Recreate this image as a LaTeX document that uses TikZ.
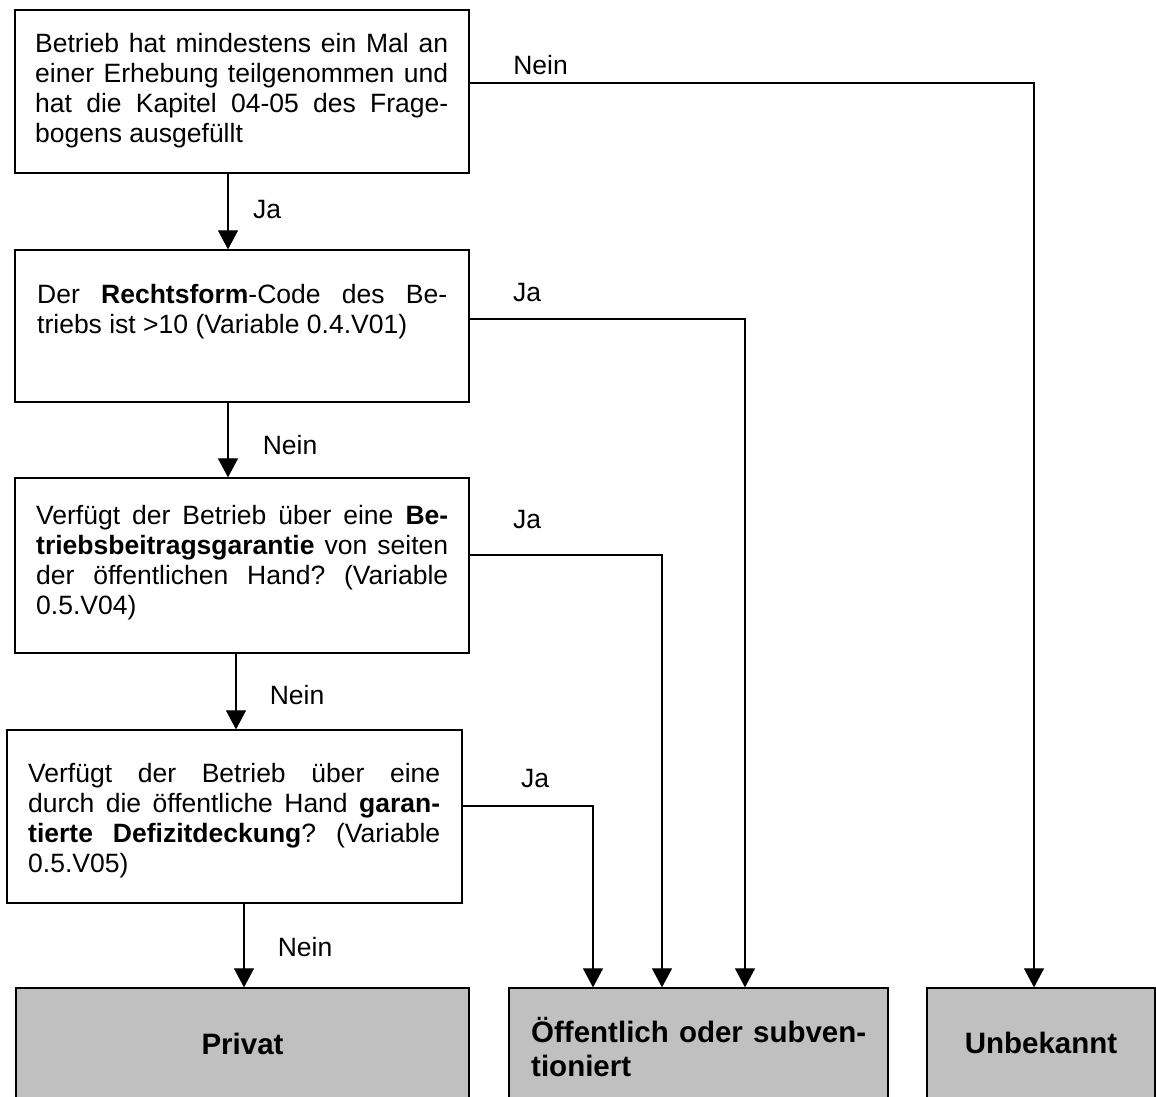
\documentclass[tikz,border=0pt]{standalone}
\usepackage{fontspec}
\setmainfont{Liberation Sans}
\usetikzlibrary{arrows.meta}
\frenchspacing
\hyphenpenalty=10000
\exhyphenpenalty=10000
\tolerance=10000
\definecolor{boxgray}{HTML}{C0C0C0}
\tikzset{
  qbox/.style={draw=black, line width=1.3pt, rectangle, inner sep=0pt},
  endbox/.style={qbox, fill=boxgray},
  qtext/.style={anchor=base west, inner sep=0pt, align=justify, font=\fontsize{26.5}{30}\selectfont\frenchspacing},
  etext/.style={anchor=base, inner sep=0pt, font=\fontsize{29.5}{34}\selectfont\bfseries\frenchspacing},
  lbl/.style={inner sep=0pt, font=\fontsize{26.5}{30}\selectfont},
  arr/.style={draw=black, line width=1.1pt, -{Triangle[width=20pt,length=19pt]}}
}
\begin{document}
\begin{tikzpicture}[x=1pt,y=-1pt]
\path[use as bounding box, clip] (0,0) rectangle (1156,1097);
\fill[white] (0,0) rectangle (1156,1097);
% question boxes
\node[qbox, minimum width=454pt, minimum height=163pt] (b1) at (242,91.5) {};
\node[qbox, minimum width=454pt, minimum height=152pt] (b2) at (242,326) {};
\node[qbox, minimum width=454pt, minimum height=175pt] (b3) at (242,565.5) {};
\node[qbox, minimum width=455pt, minimum height=173pt] (b4) at (234.5,816.5) {};
% end boxes
\node[endbox, minimum width=453pt, minimum height=122pt] (p) at (242.5,1049) {};
\node[endbox, minimum width=379pt, minimum height=122pt] (o) at (698.5,1049) {};
\node[endbox, minimum width=228pt, minimum height=122pt] (u) at (1041,1049) {};
% texts
\node[qtext, text width=413pt] (t1) at (35,53) {Betrieb hat mindestens ein Mal an\linebreak einer Erhebung teilgenommen und\linebreak hat die Kapitel 04-05 des Frage-\linebreak bogens ausgefüllt};
\node[qtext, text width=410pt] (t2) at (37,303) {Der \textbf{Rechtsform}-Code des Be-\linebreak triebs ist >10 (Variable 0.4.V01)};
\node[qtext, text width=412pt] (t3) at (36,524) {Verfügt der Betrieb über eine \textbf{Be-}\linebreak \textbf{triebsbeitragsgarantie} von seiten\linebreak der öffentlichen Hand? (Variable\linebreak 0.5.V04)};
\node[qtext, text width=412pt] (t4) at (28,782) {Verfügt der Betrieb über eine\linebreak durch die öffentliche Hand \textbf{garan-}\linebreak \textbf{tierte Defizitdeckung}? (Variable\linebreak 0.5.V05)};
\node[etext] (tp) at (242.5,1054) {Privat};
\node[etext, anchor=base west, text width=335pt, align=justify] (to) at (531,1042) {Öffentlich oder subven-\linebreak tioniert};
\node[etext] (tu) at (1041,1053) {Unbekannt};
% vertical connectors
\draw[arr] ([xshift=-14pt]b1.south) -- ([xshift=-14pt]b2.north);
\draw[arr] ([xshift=-14pt]b2.south) -- ([xshift=-14pt]b3.north);
\draw[arr] ([xshift=-6pt]b3.south) -- ([xshift=1.5pt]b4.north);
\draw[arr] ([xshift=9.5pt]b4.south) -- ([xshift=1.5pt]p.north);
% side connectors
\draw[arr] ([yshift=8.5pt]b1.east) -| ([xshift=-7pt]u.north);
\draw[arr] ([yshift=7pt]b2.east) -| ([xshift=46.5pt]o.north);
\draw[arr] ([yshift=10.5pt]b3.east) -| ([xshift=-36.5pt]o.north);
\draw[arr] ([yshift=10.5pt]b4.east) -| ([xshift=-105.5pt]o.north);
% labels
\node[lbl] (l1) at (540.5,65) {Nein};
\node[lbl] (l2) at (527,293) {Ja};
\node[lbl] (l3) at (527,520) {Ja};
\node[lbl] (l4) at (535,779) {Ja};
\node[lbl] (l5) at (267,210) {Ja};
\node[lbl] (l6) at (290,445) {Nein};
\node[lbl] (l7) at (297,695) {Nein};
\node[lbl] (l8) at (305,947) {Nein};
\end{tikzpicture}
\end{document}
